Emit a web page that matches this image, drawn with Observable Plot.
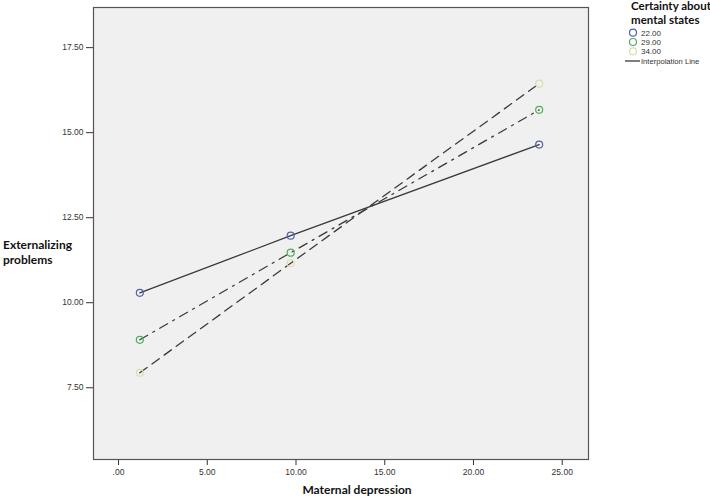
<!DOCTYPE html>
<html>
<head>
<meta charset="utf-8">
<script src="https://cdn.jsdelivr.net/npm/d3@7"></script>
<script src="https://cdn.jsdelivr.net/npm/@observablehq/plot@0.6"></script>
<style>
  body { margin: 0; background: #fff; }
  #chart { position: relative; width: 710px; height: 500px; }
</style>
</head>
<body>
<div id="chart"></div>
<script>
// Data
const groups = ["22.00", "29.00", "34.00"];
const xValues = [1.2, 9.7, 23.7];
const series22 = [10.29, 11.97, 14.65];
const series29 = [8.91, 11.47, 15.67];
const series34 = [7.94, 11.16, 16.44];
const xTicks = [0, 5, 10, 15, 20, 25];
const yTicks = [7.5, 10, 12.5, 15, 17.5];

const markerColors = ["#5561a8", "#4fae60", "#dcdcae"];
const dashes = [null, "9,6,2,6", "9,6"];
const allSeries = [series22, series29, series34];

const rows = [];
groups.forEach((g, i) => {
  xValues.forEach((x, j) => rows.push({group: g, x, y: allSeries[i][j]}));
});

const fmt = d => d === 0 ? ".00" : d.toFixed(2);

const marks = [
  Plot.frame({fill: "#f0f0f0"}),
  Plot.axisX({ticks: xTicks, tickFormat: fmt, tickSize: 6, tickPadding: 3, fontSize: 8.5, label: null, stroke: "#333"}),
  Plot.axisY({ticks: yTicks, tickFormat: fmt, tickSize: 7, tickPadding: 3, fontSize: 8.5, label: null, stroke: "#333"}),
];
groups.forEach((g, i) => {
  marks.push(Plot.line(rows.filter(r => r.group === g), {
    x: "x", y: "y", stroke: "#3a3a3a", strokeWidth: 1.3,
    strokeDasharray: dashes[i]
  }));
});
groups.forEach((g, i) => {
  marks.push(Plot.dot(rows.filter(r => r.group === g), {
    x: "x", y: "y", r: 3.5, stroke: markerColors[i], strokeWidth: 1.2, fill: "none"
  }));
});
marks.push(Plot.frame({stroke: "#555", strokeWidth: 1.2}));

const plot = Plot.plot({
  width: 710,
  height: 500,
  marginLeft: 93,
  marginRight: 122,
  marginTop: 7,
  marginBottom: 41,
  x: {domain: [-1.41, 26.48]},
  y: {domain: [5.39, 18.68]},
  style: {fontFamily: "Liberation Sans, Arial, sans-serif", color: "#333", background: "#fff"},
  marks
});

document.getElementById("chart").appendChild(plot);

// Titles and legend added as SVG text
const svg = d3.select(plot);
const bold = "Lato, 'Open Sans', sans-serif";
const g0 = svg.append("g").attr("text-anchor", "start");

function label(x, y, txt, opts = {}) {
  return g0.append("text").attr("x", x).attr("y", y)
    .attr("text-anchor", opts.anchor || "start")
    .attr("font-family", opts.bold ? bold : "Liberation Sans, Arial, sans-serif")
    .attr("font-weight", opts.bold ? "bold" : "normal")
    .attr("font-size", opts.size || 8)
    .attr("fill", opts.bold ? "#111" : "#333")
    .text(txt);
}

label(3, 249, "Externalizing", {bold: true, size: 12});
label(3, 264, "problems", {bold: true, size: 12});
label(357, 494, "Maternal depression", {bold: true, size: 12, anchor: "middle"});
label(631, 10, "Certainty about", {bold: true, size: 11.5});
label(631, 24, "mental states", {bold: true, size: 11.5});

const legendY = [32.7, 42, 51.3];
groups.forEach((g, i) => {
  const cy = legendY[i];
  g0.append("circle").attr("cx", 633).attr("cy", cy).attr("r", 3.5)
    .attr("fill", "none").attr("stroke", markerColors[i]).attr("stroke-width", 1.2);
  label(641, cy + 3, g);
});
g0.append("line").attr("x1", 625).attr("x2", 640).attr("y1", 61).attr("y2", 61)
  .attr("stroke", "#3a3a3a").attr("stroke-width", 1.3);
label(641, 64, "Interpolation Line", {size: 7.6});
</script>
</body>
</html>
